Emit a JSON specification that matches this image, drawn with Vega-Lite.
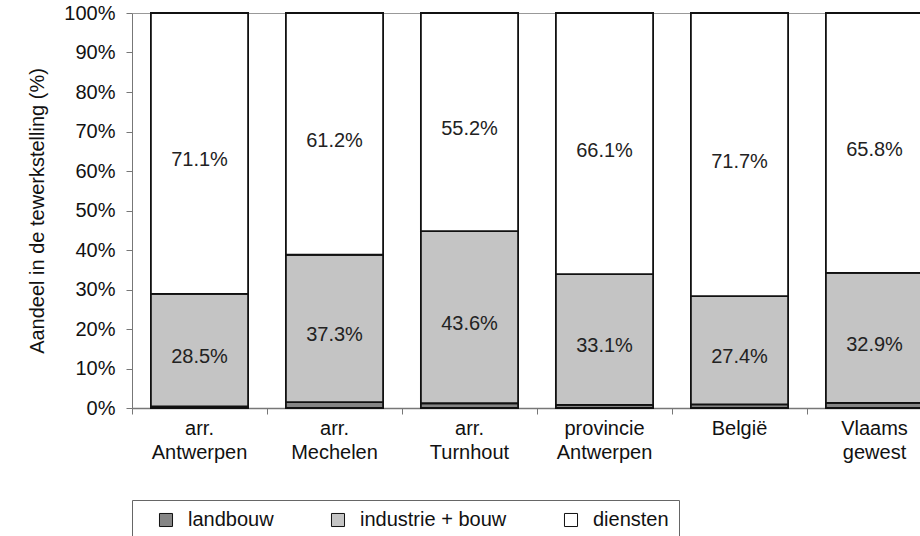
{
  "$schema": "https://vega.github.io/schema/vega-lite/v6.json",
  "width": 788,
  "height": 395,
  "autosize": {"type": "none"},
  "padding": {"left": 132, "top": 13, "right": 0, "bottom": 128},
  "background": "white",
  "config": {
    "font": "Liberation Sans",
    "view": {"stroke": null},
    "axis": {
      "labelFontSize": 20,
      "labelColor": "#111",
      "titleFontSize": 20,
      "titleFontWeight": "normal",
      "titleColor": "#111",
      "tickColor": "#777",
      "domainColor": "#777",
      "tickSize": 6
    },
    "axisY": {"labelPadding": 11, "titlePadding": 16},
    "axisX": {"labelPadding": 4, "domainWidth": 1.5}
  },
  "data": {
    "values": [
      {"region": "arr. Antwerpen", "sector": "landbouw", "value": 0.4},
      {"region": "arr. Antwerpen", "sector": "industrie + bouw", "value": 28.5},
      {"region": "arr. Antwerpen", "sector": "diensten", "value": 71.1},
      {"region": "arr. Mechelen", "sector": "landbouw", "value": 1.5},
      {"region": "arr. Mechelen", "sector": "industrie + bouw", "value": 37.3},
      {"region": "arr. Mechelen", "sector": "diensten", "value": 61.2},
      {"region": "arr. Turnhout", "sector": "landbouw", "value": 1.2},
      {"region": "arr. Turnhout", "sector": "industrie + bouw", "value": 43.6},
      {"region": "arr. Turnhout", "sector": "diensten", "value": 55.2},
      {"region": "provincie Antwerpen", "sector": "landbouw", "value": 0.8},
      {"region": "provincie Antwerpen", "sector": "industrie + bouw", "value": 33.1},
      {"region": "provincie Antwerpen", "sector": "diensten", "value": 66.1},
      {"region": "België", "sector": "landbouw", "value": 0.9},
      {"region": "België", "sector": "industrie + bouw", "value": 27.4},
      {"region": "België", "sector": "diensten", "value": 71.7},
      {"region": "Vlaams gewest", "sector": "landbouw", "value": 1.3},
      {"region": "Vlaams gewest", "sector": "industrie + bouw", "value": 32.9},
      {"region": "Vlaams gewest", "sector": "diensten", "value": 65.8}
    ]
  },
  "transform": [
    {"calculate": "indexof(['landbouw','industrie + bouw','diensten'], datum.sector)", "as": "k"},
    {"stack": "value", "groupby": ["region"], "sort": [{"field": "k", "order": "ascending"}], "as": ["v0", "v1"]},
    {"calculate": "(datum.v0 + datum.v1) / 2", "as": "vmid"},
    {"calculate": "format(datum.value, '.1f') + '%'", "as": "lab"}
  ],
  "encoding": {
    "x": {
      "field": "region",
      "type": "nominal",
      "sort": ["arr. Antwerpen", "arr. Mechelen", "arr. Turnhout", "provincie Antwerpen", "België", "Vlaams gewest"],
      "scale": {"paddingInner": 0, "paddingOuter": 0, "range": [0, 810]},
      "axis": {
        "title": null,
        "labelAngle": 0,
        "labelExpr": "split(datum.label, ' ')",
        "labelLineHeight": 24,
        "bandPosition": 0
      }
    }
  },
  "layer": [
    {
      "mark": {"type": "bar", "width": {"band": 0.72}, "stroke": "#111", "strokeWidth": 1.8},
      "encoding": {
        "y": {
          "field": "v0",
          "type": "quantitative",
          "scale": {"domain": [0, 100], "nice": false},
          "axis": {
            "title": "Aandeel in de tewerkstelling (%)",
            "values": [0, 10, 20, 30, 40, 50, 60, 70, 80, 90, 100],
            "labelExpr": "datum.value + '%'",
            "grid": true,
            "gridColor": "#999",
            "gridOpacity": {"condition": {"test": "datum.value == 100", "value": 1}, "value": 0}
          }
        },
        "y2": {"field": "v1"},
        "fill": {
          "field": "sector",
          "type": "nominal",
          "scale": {
            "domain": ["landbouw", "industrie + bouw", "diensten"],
            "range": ["#858585", "#c4c4c4", "#ffffff"]
          },
          "legend": {
            "title": null,
            "orient": "bottom",
            "direction": "horizontal",
            "offset": 38,
            "symbolType": "square",
            "symbolSize": 170,
            "symbolOffset": 14,
            "symbolStrokeColor": "#111",
            "symbolStrokeWidth": 1,
            "labelFontSize": 20,
            "labelColor": "#111",
            "labelOffset": 12,
            "labelExpr": "datum.label == 'diensten' ? datum.label + '      ' : datum.label",
            "columnPadding": 40,
            "strokeColor": "#666",
            "padding": 10
          }
        }
      }
    },
    {
      "transform": [{"filter": "datum.sector != 'landbouw'"}],
      "mark": {"type": "text", "fontSize": 20, "color": "#222", "dy": 7},
      "encoding": {
        "y": {
          "field": "vmid",
          "type": "quantitative",
          "axis": {
            "title": "Aandeel in de tewerkstelling (%)",
            "values": [0, 10, 20, 30, 40, 50, 60, 70, 80, 90, 100],
            "labelExpr": "datum.value + '%'",
            "grid": true,
            "gridColor": "#999",
            "gridOpacity": {"condition": {"test": "datum.value == 100", "value": 1}, "value": 0}
          }
        },
        "text": {"field": "lab"}
      }
    }
  ]
}
